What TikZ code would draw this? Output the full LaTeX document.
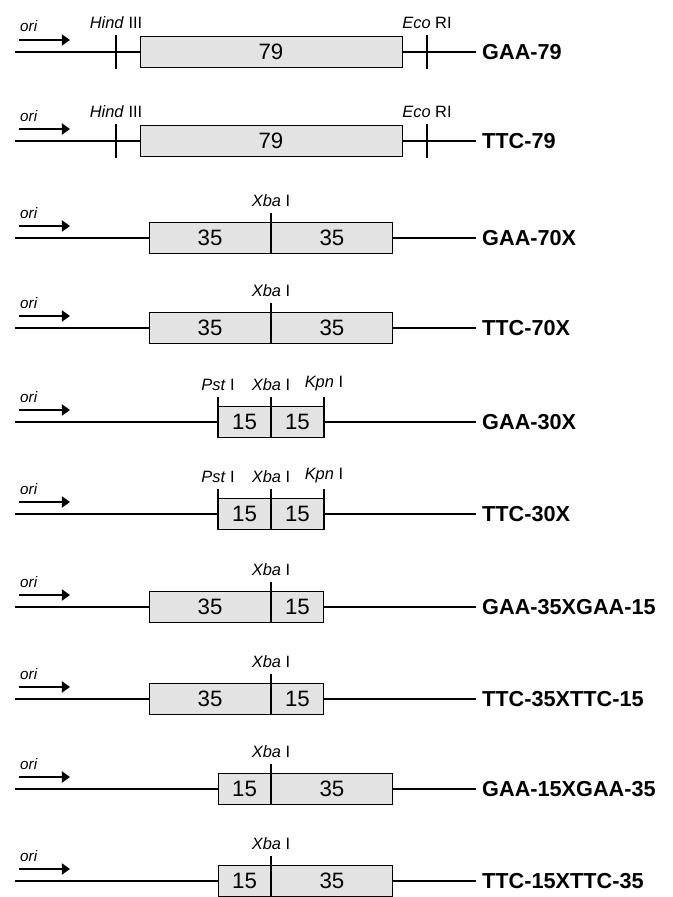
\documentclass[tikz,border=0pt]{standalone}
\usepackage{fontspec}
\setmainfont{Liberation Sans}
\usetikzlibrary{arrows.meta,positioning}

\begin{document}
\begin{tikzpicture}[x=0.03cm,y=-0.03cm,
  backbone/.style={line width=1.1pt},
  cutsite/.style={line width=1.1pt},
  repeatbox/.style={draw,line width=0.8pt,fill=gray!22,minimum height=0.93cm,
    inner sep=0pt,font=\fontsize{19}{19}\selectfont},
  sitelabel/.style={font=\fontsize{14}{14}\selectfont,inner sep=0pt,anchor=base},
  constructlabel/.style={font=\fontsize{18.5}{18.5}\selectfont\bfseries,anchor=west,inner sep=0pt},
  orilabel/.style={font=\fontsize{13}{13}\selectfont\itshape,anchor=base west,inner sep=0pt},
  oriarrow/.style={line width=2.4pt,-{Triangle[length=7pt,width=9.5pt]}}]

  \useasboundingbox (0,0) rectangle (672,897);

  % backbones, ori arrows and construct names
  \foreach \y/\tag/\name in {52/r1/GAA-79, 141/r2/TTC-79, 238/r3/GAA-70X, 328/r4/TTC-70X,
      422/r5/GAA-30X, 514/r6/TTC-30X, 607/r7/GAA-35XGAA-15, 699/r8/TTC-35XTTC-15,
      789/r9/GAA-15XGAA-35, 881/r10/TTC-15XTTC-35} {
    \coordinate (\tag s) at (15,\y);
    \coordinate (\tag e) at (476,\y);
    \draw[backbone] (\tag s) -- (\tag e);
    \node[constructlabel] (\tag name) at (482,\y) {\name};
    \coordinate (\tag o) at (19,\y-12);
    \coordinate (\tag oe) at (70,\y-12);
    \draw[oriarrow] (\tag o) -- (\tag oe);
    \node[orilabel] (\tag ori) at (20,\y-20) {ori};
  }

  % 79 repeats with HindIII / EcoRI sites
  \foreach \tag/\y in {r1/52, r2/141} {
    \node[repeatbox,minimum width=262*0.03cm] (\tag box) at (271,\y) {79};
    \draw[cutsite] (116,\y+17) -- (116,\y-17) node[sitelabel,above=5pt] {\textit{Hind} III};
    \draw[cutsite] (427,\y+17) -- (427,\y-17) node[sitelabel,above=5pt] {\textit{Eco} RI};
  }

  % 35 + 35 with XbaI
  \foreach \tag/\y in {r3/238, r4/328} {
    \node[repeatbox,minimum width=121*0.03cm,anchor=east] (\tag a) at (271,\y) {35};
    \node[repeatbox,minimum width=121*0.03cm,anchor=west] (\tag b) at (271,\y) {35};
    \draw[cutsite] (\tag a.south east) -- ++(0,-41) node[sitelabel,above=5pt] {\textit{Xba} I};
  }

  % 15 + 15 with PstI, XbaI, KpnI
  \foreach \tag/\y in {r5/422, r6/514} {
    \node[repeatbox,minimum width=52*0.03cm,anchor=east] (\tag a) at (271,\y) {15};
    \node[repeatbox,minimum width=52*0.03cm,anchor=west] (\tag b) at (271,\y) {15};
    \draw[cutsite] (\tag a.south west) -- ++(0,-41) node[sitelabel,above=5pt] {\textit{Pst} I};
    \draw[cutsite] (\tag a.south east) -- ++(0,-41) node[sitelabel,above=5pt] {\textit{Xba} I};
    \draw[cutsite] (\tag b.south east) -- ++(0,-41) node[sitelabel,above=5pt] {\textit{Kpn} I};
  }

  % 35 + 15
  \foreach \tag/\y in {r7/607, r8/699} {
    \node[repeatbox,minimum width=121*0.03cm,anchor=east] (\tag a) at (271,\y) {35};
    \node[repeatbox,minimum width=52*0.03cm,anchor=west] (\tag b) at (271,\y) {15};
    \draw[cutsite] (\tag a.south east) -- ++(0,-41) node[sitelabel,above=5pt] {\textit{Xba} I};
  }

  % 15 + 35
  \foreach \tag/\y in {r9/789, r10/881} {
    \node[repeatbox,minimum width=52*0.03cm,anchor=east] (\tag a) at (271,\y) {15};
    \node[repeatbox,minimum width=121*0.03cm,anchor=west] (\tag b) at (271,\y) {35};
    \draw[cutsite] (\tag a.south east) -- ++(0,-41) node[sitelabel,above=5pt] {\textit{Xba} I};
  }

\end{tikzpicture}
\end{document}
